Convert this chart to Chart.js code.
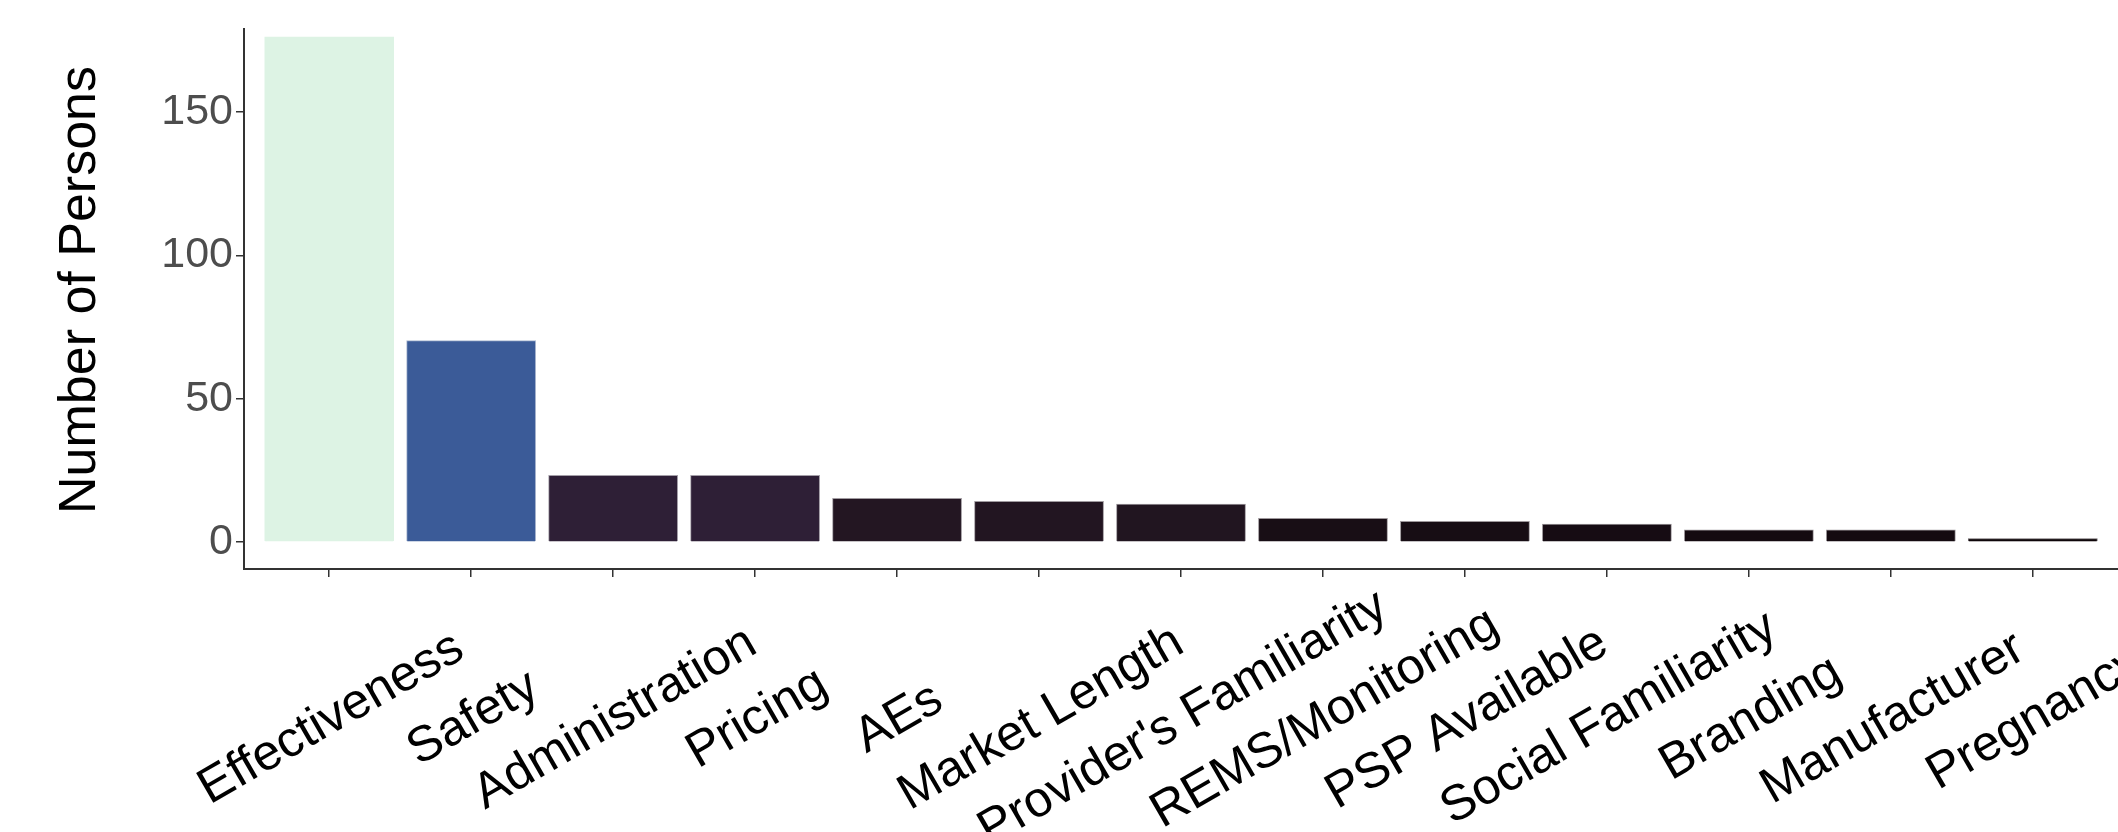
<!DOCTYPE html>
<html>
<head>
<meta charset="utf-8">
<script src="https://cdn.jsdelivr.net/npm/chart.js@4.4.1/dist/chart.umd.min.js"></script>
<style>
  html, body { margin: 0; padding: 0; background: #fff; overflow: hidden; }
  #wrap { width: 2118px; height: 832px; }
</style>
</head>
<body>
<div id="wrap"><canvas id="reasonsChart" width="2118" height="832"></canvas></div>
<script>
// values
const categories = ["Effectiveness", "Safety", "Administration", "Pricing", "AEs", "Market Length",
  "Provider's Familiarity", "REMS/Monitoring", "PSP Available", "Social Familiarity",
  "Branding", "Manufacturer", "Pregnancy"];
const persons = [176, 70, 23, 23, 15, 14, 13, 8, 7, 6, 4, 4, 1];
const yTicks = [0, 50, 100, 150];
const yTitle = "Number of Persons";

const barColors = ["#ddf3e4", "#3b5b98", "#2e1f36", "#2e1f36", "#231622", "#221521", "#211520",
  "#180e15", "#170d14", "#160c13", "#140a10", "#140a10", "#0e0609"];
const edgeColors = ["#ddf3e4", "#a9b6cf", "#a49fa8", "#a49fa8", "#a09ba0", "#a09ba0", "#a09ba0",
  "#9e989c", "#9e989c", "#9e989c", "#9c969a", "#9c969a", "#6a6468"];

const fontFamily = "'Liberation Sans', Arial, sans-serif";

// ggplot style rotated, centred labels under each tick + y title
const axisText = {
  id: "axisText",
  afterDraw(chart) {
    const ctx = chart.ctx;
    const xs = chart.scales.x;
    ctx.save();
    ctx.font = "50px " + fontFamily;
    ctx.fillStyle = "#000";
    ctx.textAlign = "center";
    ctx.textBaseline = "alphabetic";
    categories.forEach((c, i) => {
      ctx.save();
      ctx.translate(xs.getPixelForValue(i), 715);
      ctx.rotate(-30 * Math.PI / 180);
      ctx.fillText(c, 0, 18);
      ctx.restore();
    });

    ctx.font = "52px " + fontFamily;
    ctx.textBaseline = "middle";
    ctx.translate(81, 290);
    ctx.rotate(-Math.PI / 2);
    ctx.fillText(yTitle, 0, 0);
    ctx.restore();
  }
};

const ctx = document.getElementById("reasonsChart");

new Chart(ctx, {
  type: "bar",
  data: {
    datasets: [{
      data: persons.map((v, i) => ({ x: i, y: v })),
      backgroundColor: barColors,
      borderColor: edgeColors,
      borderWidth: 1,
      inflateAmount: 1,
      categoryPercentage: 0.9,
      barPercentage: 1.0,
    }]
  },
  options: {
    responsive: false,
    animation: false,
    devicePixelRatio: 1,
    layout: { padding: { top: 28, right: 0, bottom: 0, left: 0 } },
    plugins: {
      legend: { display: false },
      tooltip: { enabled: false },
    },
    scales: {
      x: {
        type: "linear",
        min: -0.6,
        max: categories.length - 0.4,
        offset: false,
        afterBuildTicks: (s) => { s.ticks = categories.map((c, i) => ({ value: i })); },
        afterFit: (s) => { s.height = 263; },
        ticks: { display: false },
        grid: { offset: false, drawOnChartArea: false, drawTicks: true, tickLength: 8, color: "#333", lineWidth: 1.5 },
        border: { color: "#333", width: 2 },
      },
      y: {
        min: -9.4,
        max: 179,
        afterBuildTicks: (s) => { s.ticks = yTicks.map(v => ({ value: v })); },
        afterFit: (s) => { s.width = 244; },
        ticks: { color: "#4d4d4d", font: { family: fontFamily, size: 43 }, padding: 3 },
        grid: { drawOnChartArea: false, drawTicks: true, tickLength: 8, color: "#333", lineWidth: 1.5 },
        border: { color: "#333", width: 2 },
      },
    },
  },
  plugins: [axisText],
});
</script>
</body>
</html>
